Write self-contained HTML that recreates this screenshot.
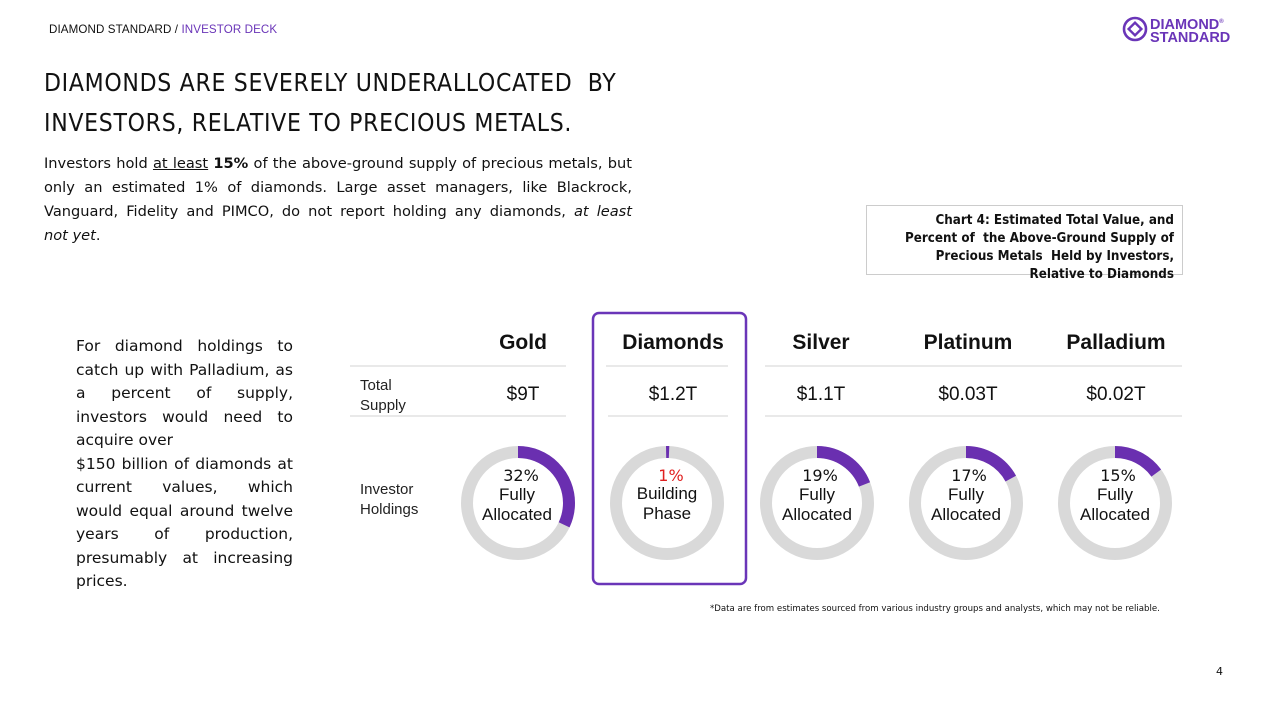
<!DOCTYPE html>
<html><head><meta charset="utf-8"><style>
*{margin:0;padding:0;box-sizing:border-box}
body{width:1280px;height:720px;background:#fff;position:relative;font-family:"DejaVu Sans","Liberation Sans",sans-serif;color:#111;overflow:hidden}
.a{position:absolute}
.hdr{left:49px;top:23px;font-size:11.6px;font-family:"Liberation Sans",sans-serif;letter-spacing:0.1px}
.title{left:44px;top:63px;font-size:24.5px;line-height:40px;letter-spacing:0.7px;font-family:"DejaVu Sans Condensed","DejaVu Sans",sans-serif}
.intro{left:44px;top:152px;width:588px;font-size:14.6px;line-height:24px}
.side{left:76px;top:335px;width:217px;font-size:15.5px;line-height:23.5px}
.j{text-align:justify;text-align-last:justify;white-space:nowrap}
.cap{left:866px;top:205px;width:317px;height:70px;border:1px solid #ccc;text-align:right;padding:6px 8px 0 0;font-size:13.3px;line-height:18px;font-weight:bold;font-family:"DejaVu Sans Condensed","DejaVu Sans",sans-serif}
.foot{left:710px;top:604px;font-size:8.6px}
.pg{left:1216px;top:665px;font-size:11px}
.ch{font-family:"Liberation Sans",sans-serif}
</style></head><body>
<div class="a hdr">DIAMOND STANDARD / <span style="color:#6a35b8">INVESTOR DECK</span></div>
<div class="a" style="left:1122px;top:16px;width:26px;height:26px">
<svg width="26" height="26"><circle cx="13" cy="13" r="11" fill="none" stroke="#6a35b8" stroke-width="2.6"/><rect x="8.5" y="8.5" width="9" height="9" fill="none" stroke="#6a35b8" stroke-width="2.4" transform="rotate(45 13 13)"/></svg></div>
<div class="a" style="left:1150px;top:16px;font-family:'Liberation Sans',sans-serif;font-weight:bold;color:#6a35b8;font-size:14.5px;line-height:13px">DIAMOND<sup style="font-size:6px">®</sup><br>STANDARD</div>
<div class="a title">DIAMONDS ARE SEVERELY UNDERALLOCATED &nbsp;BY<br>INVESTORS, RELATIVE TO PRECIOUS METALS.</div>
<div class="a intro">
<div class="j">Investors hold <u>at least</u> <b>15%</b> of the above-ground supply of precious metals, but</div>
<div class="j">only an estimated 1% of diamonds. Large asset managers, like Blackrock,</div>
<div class="j">Vanguard, Fidelity and PIMCO, do not report holding any diamonds, <i>at least</i></div>
<div><i>not yet</i>.</div>
</div>
<div class="a side">
<div class="j">For diamond holdings to</div>
<div class="j">catch up with Palladium, as</div>
<div class="j">a percent of supply,</div>
<div class="j">investors would need to</div>
<div>acquire over</div>
<div class="j">$150 billion of diamonds at</div>
<div class="j">current values, which</div>
<div class="j">would equal around twelve</div>
<div class="j">years of production,</div>
<div class="j">presumably at increasing</div>
<div>prices.</div>
</div>
<div class="a cap">Chart 4: Estimated Total Value, and<br>Percent of &nbsp;the Above-Ground Supply of<br>Precious Metals &nbsp;Held by Investors,<br>Relative to Diamonds</div>
<svg class="a ch" style="left:0;top:0" width="1280" height="720">
<g stroke="#e2e2e2" stroke-width="1.5">
<line x1="350" y1="366" x2="566" y2="366"/><line x1="350" y1="416" x2="566" y2="416"/>
<line x1="606" y1="366" x2="728" y2="366"/><line x1="608" y1="416" x2="728" y2="416"/>
<line x1="765" y1="366" x2="1182" y2="366"/><line x1="765" y1="416" x2="1182" y2="416"/>
</g>
<rect x="593" y="313" width="153" height="271" rx="6" fill="none" stroke="#6a35b8" stroke-width="2.5"/>
<g font-weight="bold" font-size="21" text-anchor="middle" fill="#111">
<text x="523" y="349">Gold</text><text x="673" y="349">Diamonds</text><text x="821" y="349">Silver</text><text x="968" y="349">Platinum</text><text x="1116" y="349">Palladium</text>
</g>
<g font-size="19" text-anchor="middle" fill="#111">
<text x="523" y="400">$9T</text><text x="673" y="400">$1.2T</text><text x="821" y="400">$1.1T</text><text x="968" y="400">$0.03T</text><text x="1116" y="400">$0.02T</text>
</g>
<g font-size="15" fill="#222"><text x="360" y="390">Total</text><text x="360" y="410">Supply</text><text x="360" y="494">Investor</text><text x="360" y="514">Holdings</text></g>
<g fill="none" stroke-width="12">
<circle cx="518" cy="503" r="51" stroke="#d9d9d9"/>
<circle cx="667" cy="503" r="51" stroke="#d9d9d9"/>
<circle cx="817" cy="503" r="51" stroke="#d9d9d9"/>
<circle cx="966" cy="503" r="51" stroke="#d9d9d9"/>
<circle cx="1115" cy="503" r="51" stroke="#d9d9d9"/>
<circle cx="518" cy="503" r="51" stroke="#6a2fb0" stroke-dasharray="102.5 400" transform="rotate(-90 518 503)"/>
<circle cx="667" cy="503" r="51" stroke="#6a2fb0" stroke-dasharray="3 400" transform="rotate(-91 667 503)"/>
<circle cx="817" cy="503" r="51" stroke="#6a2fb0" stroke-dasharray="61 400" transform="rotate(-90 817 503)"/>
<circle cx="966" cy="503" r="51" stroke="#6a2fb0" stroke-dasharray="54.5 400" transform="rotate(-90 966 503)"/>
<circle cx="1115" cy="503" r="51" stroke="#6a2fb0" stroke-dasharray="48 400" transform="rotate(-90 1115 503)"/>
</g>
<g font-size="17" text-anchor="middle" fill="#111">
<text x="521" y="481" font-family="DejaVu Sans" font-size="16">32%</text><text x="517" y="500">Fully</text><text x="517" y="520">Allocated</text>
<text x="671" y="481" font-family="DejaVu Sans" font-size="16" fill="#e02020">1%</text><text x="667" y="499">Building</text><text x="667" y="519">Phase</text>
<text x="820" y="481" font-family="DejaVu Sans" font-size="16">19%</text><text x="817" y="500">Fully</text><text x="817" y="520">Allocated</text>
<text x="969" y="481" font-family="DejaVu Sans" font-size="16">17%</text><text x="966" y="500">Fully</text><text x="966" y="520">Allocated</text>
<text x="1118" y="481" font-family="DejaVu Sans" font-size="16">15%</text><text x="1115" y="500">Fully</text><text x="1115" y="520">Allocated</text>
</g>
</svg>
<div class="a foot">*Data are from estimates sourced from various industry groups and analysts, which may not be reliable.</div>
<div class="a pg">4</div>
</body></html>
